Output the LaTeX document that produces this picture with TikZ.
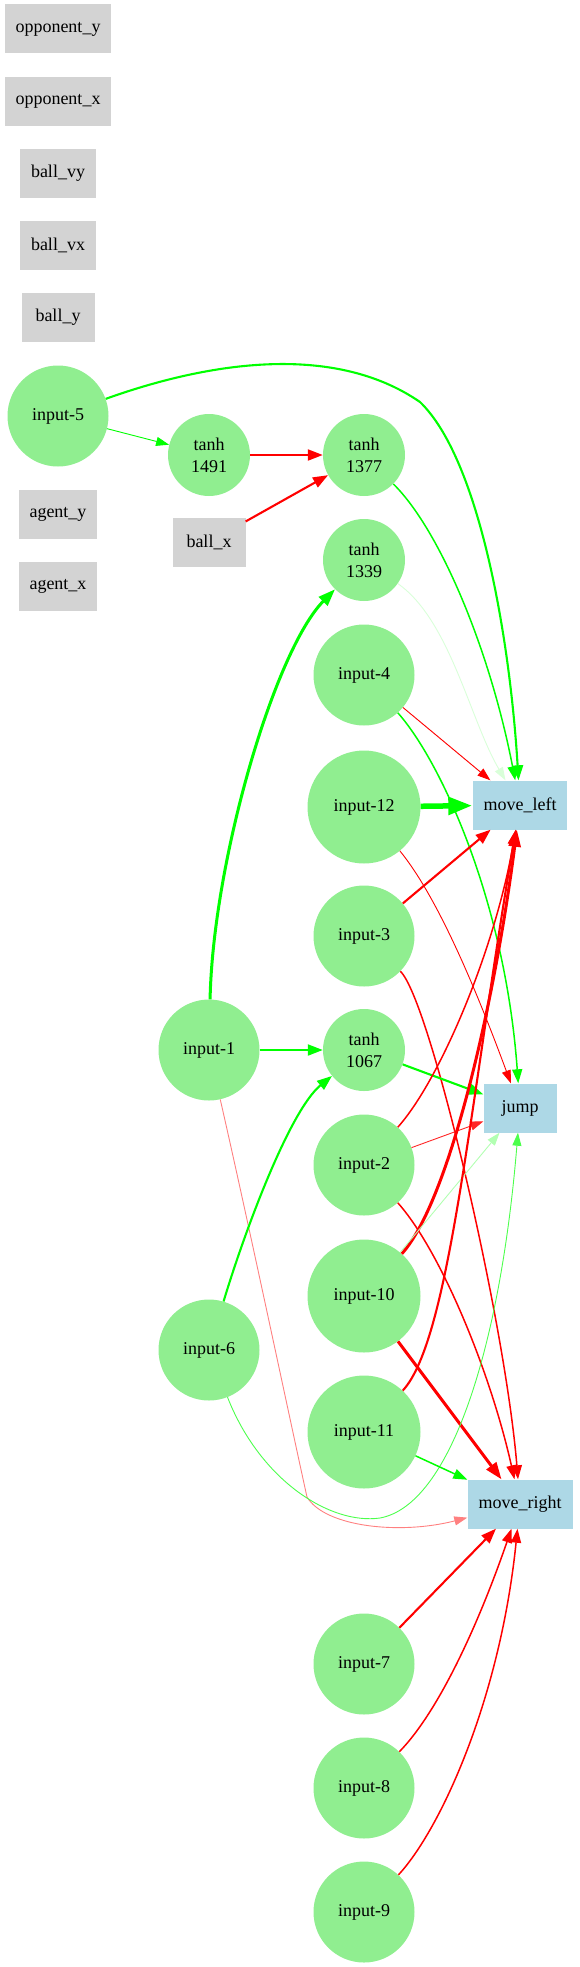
\documentclass[tikz,border=0pt]{standalone}
\usepackage{fontspec}
\setmainfont{Liberation Serif}
\usetikzlibrary{arrows.meta}
\definecolor{nodegreen}{HTML}{90EE90}
\definecolor{sensorgray}{HTML}{D3D3D3}
\definecolor{outblue}{HTML}{ADD8E6}

\begin{document}
\begin{tikzpicture}[x=1pt, y=-1pt,
    every node/.style={font=\fontsize{18}{22}\selectfont, inner sep=0pt},
    sensor/.style={rectangle, fill=sensorgray, minimum width=73pt, minimum height=49pt, inner xsep=11pt},
    action/.style={rectangle, fill=outblue, minimum width=73pt, minimum height=49pt, inner xsep=11pt},
    inp/.style={circle, fill=nodegreen, minimum size=101pt},
    biginp/.style={inp, minimum size=113pt},
    hidden/.style={circle, fill=nodegreen, minimum size=82pt, align=center},
    w1/.style={line width=0.9pt, -{Triangle[length=13pt, width=9pt]}},
    w2/.style={line width=1.5pt, -{Triangle[length=14pt, width=10pt]}},
    w3/.style={line width=2.1pt, -{Triangle[length=15pt, width=11pt]}},
    w4/.style={line width=3pt, -{Triangle[length=17pt, width=12pt]}},
    w5/.style={line width=5.5pt, -{Triangle[length=24pt, width=17pt]}}]

    \useasboundingbox (0,0) rectangle (579,1967);

    % Sensors
    \node[sensor] (opy) at (58,29) {opponent\_y};
    \node[sensor] (opx) at (58,101) {opponent\_x};
    \node[sensor] (bvy) at (58,173) {ball\_vy};
    \node[sensor] (bvx) at (58,245) {ball\_vx};
    \node[sensor] (by) at (58,317) {ball\_y};
    \node[sensor] (ay) at (58,514) {agent\_y};
    \node[sensor] (ax) at (58,586) {agent\_x};
    \node[sensor] (bx) at (209,542) {ball\_x};

    % Inputs
    \node[inp] (in5) at (58,416) {input-5};
    \node[inp] (in4) at (364,675) {input-4};
    \node[biginp] (in12) at (364,807) {input-12};
    \node[inp] (in3) at (364,936) {input-3};
    \node[inp] (in1) at (209,1050) {input-1};
    \node[inp] (in2) at (364,1165) {input-2};
    \node[biginp] (in10) at (364,1296) {input-10};
    \node[inp] (in6) at (209,1350) {input-6};
    \node[biginp] (in11) at (364,1432) {input-11};
    \node[inp] (in7) at (364,1664) {input-7};
    \node[inp] (in8) at (364,1788) {input-8};
    \node[inp] (in9) at (364,1912) {input-9};

    % Hidden units
    \node[hidden] (t1491) at (209,455) {tanh\\1491};
    \node[hidden] (t1377) at (364,455) {tanh\\1377};
    \node[hidden] (t1339) at (364,560) {tanh\\1339};
    \node[hidden] (t1067) at (364,1050) {tanh\\1067};

    % Actions
    \node[action] (ml) at (520,805) {move\_left};
    \node[action] (jump) at (520,1108) {jump};
    \node[action] (mr) at (520,1504) {move\_right};

    % Top part
    \draw[w1, green] (in5) -- (t1491);
    \draw[w3, green] (in5) .. controls (200,365) and (330,340) .. (420,402)
        .. controls (480,460) and (510,640) .. (ml);
    \draw[w3, red] (t1491) -- (t1377);
    \draw[w3, red] (bx) -- (t1377);
    \draw[w2, green] (t1377) .. controls (440,530) and (490,650) .. (ml);
    \draw[w1, green!15] (t1339) .. controls (450,620) and (470,720) .. (ml);

    % Into move_left and jump
    \draw[w1, red] (in4) -- (ml);
    \draw[w2, green] (in4) .. controls (440,760) and (505,900) .. (jump);
    \draw[w5, green] (in12) -- (ml);
    \draw[w1, red] (in12) .. controls (440,900) and (480,1000) .. (jump);
    \draw[w3, red] (in3) -- (ml);
    \draw[w2, red] (in3) .. controls (430,1000) and (505,1320) .. (mr);
    \draw[w4, green] (in1) .. controls (213,860) and (275,650) .. (t1339);
    \draw[w3, green] (in1) -- (t1067);
    \draw[w1, red!50] (in1) .. controls (250,1230) and (290,1420) .. (307,1497)
        .. controls (325,1527) and (400,1535) .. (mr);
    \draw[w3, green] (t1067) -- (jump);
    \draw[w2, red] (in2) .. controls (440,1080) and (495,950) .. (ml);
    \draw[w1, red!85] (in2) -- (jump);
    \draw[w2, red] (in2) .. controls (440,1250) and (490,1370) .. (mr);
    \draw[w4, red] (in10) .. controls (450,1200) and (495,1000) .. (ml);
    \draw[w1, green!30] (in10) -- (jump);
    \draw[w4, red] (in10) -- (mr);
    \draw[w3, green] (in6) .. controls (245,1230) and (290,1110) .. (t1067);
    \draw[w1, green!70] (in6) .. controls (260,1480) and (330,1525) .. (380,1518)
        .. controls (450,1505) and (500,1350) .. (jump);
    \draw[w3, red] (in11) .. controls (450,1340) and (470,1100) .. (ml);
    \draw[w2, green] (in11) -- (mr);

    % Bottom part
    \draw[w3, red] (in7) -- (mr);
    \draw[w2, red] (in8) .. controls (440,1710) and (480,1620) .. (mr);
    \draw[w2, red] (in9) .. controls (440,1830) and (500,1700) .. (mr);
\end{tikzpicture}
\end{document}
